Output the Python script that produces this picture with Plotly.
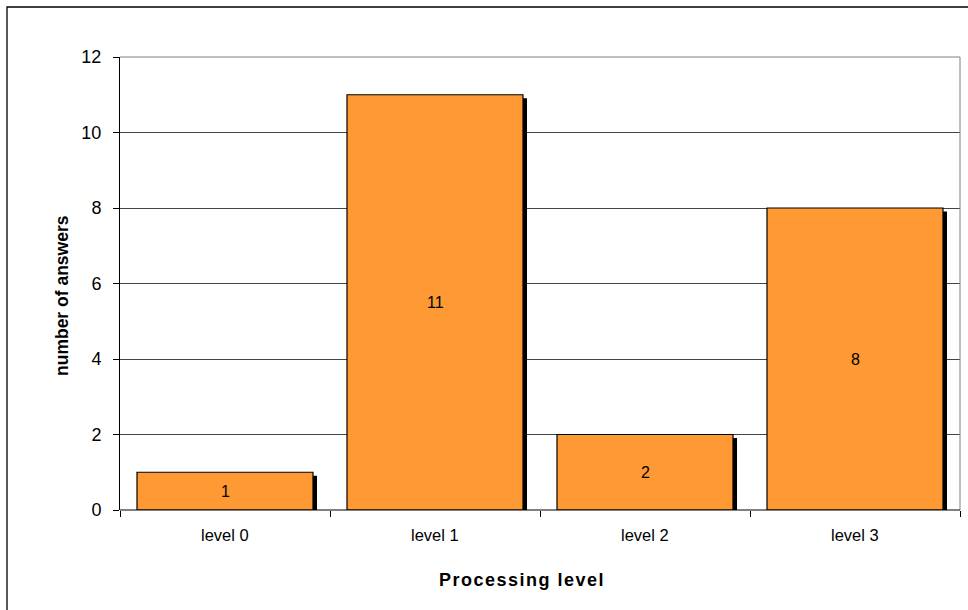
import plotly.graph_objects as go

categories = ["level 0", "level 1", "level 2", "level 3"]
answers = [1, 11, 2, 8]
y_ticks = [0, 2, 4, 6, 8, 10, 12]

W, H = 968, 610
ml, mr, mt, mb = 120, 8, 57, 100
pw, ph = W - ml - mr, H - mt - mb
px_x = 1.0 / (pw / len(categories))   # category units per px
px_y = 12.0 / ph                      # value units per px

bar_w = 176 * px_x
shadow_dx = 4 * px_x
shadow_dy = 3.5 * px_y

FONT = "Liberation Sans, Arial, sans-serif"
HS = "\u200a"

fig = go.Figure()
# shadow
fig.add_trace(go.Bar(
    x=categories, y=answers, base=[-shadow_dy] * len(answers),
    width=bar_w, offset=-bar_w / 2 + shadow_dx,
    marker=dict(color="black", line=dict(width=0)),
    hoverinfo="skip", showlegend=False,
))
# bars
fig.add_trace(go.Bar(
    x=categories, y=answers, width=bar_w, offset=-bar_w / 2,
    marker=dict(color="#FF9933", line=dict(color="black", width=1.2)),
    showlegend=False,
))

fig.update_layout(
    width=W, height=H,
    margin=dict(l=ml, r=mr, t=mt, b=mb),
    paper_bgcolor="white", plot_bgcolor="white",
    barmode="overlay",
    font=dict(family=FONT, color="black"),
    xaxis=dict(
        range=[-0.5, 3.5], showgrid=False, zeroline=False,
        showline=False,
        tickmode="array", tickvals=[-0.5, 0.5, 1.5, 2.5, 3.5], ticktext=["", "", "", "", ""],
        ticks="outside", ticklen=6, tickcolor="black",
    ),
    yaxis=dict(
        range=[0, 12], tickvals=y_ticks, showgrid=True, gridcolor="#444444", gridwidth=1,
        zeroline=False, showline=True, linecolor="black", linewidth=1,
        ticks="outside", ticklen=6, tickcolor="black",
        tickfont=dict(size=18), ticklabelstandoff=8,
    ),
)

# value labels (middle of each bar) and category labels
for c, v in zip(categories, answers):
    fig.add_annotation(x=c, y=v / 2, xref="x", yref="y", text=str(v), showarrow=False,
                       font=dict(size=16), xanchor="center", yanchor="middle")
    fig.add_annotation(x=c, y=0, xref="x", yref="y", text=c, showarrow=False,
                       yshift=-25, font=dict(size=16.5))

# axis titles
x_title = "Processing level"
fig.add_annotation(x=(521.5 - ml) / pw, y=-(580 - mt - ph) / ph, xref="paper", yref="paper",
                   text="<b>" + HS.join(x_title) + "</b>", showarrow=False,
                   font=dict(size=18), xanchor="center", yanchor="middle")
fig.add_annotation(x=(62 - ml) / pw, y=1 - (295 - mt) / ph, xref="paper", yref="paper",
                   text="<b>number of answers</b>", showarrow=False, textangle=-90,
                   font=dict(size=17.5), xanchor="center", yanchor="middle")

# plot-area border (top and right gray), x-axis line
fig.add_shape(type="line", xref="paper", yref="paper", x0=0, x1=1, y0=1, y1=1,
              line=dict(color="#808080", width=1))
fig.add_shape(type="line", xref="paper", yref="paper", x0=1, x1=1, y0=0, y1=1,
              line=dict(color="#808080", width=1))
fig.add_shape(type="line", xref="paper", yref="paper", x0=0, x1=1, y0=0, y1=0,
              line=dict(color="black", width=1))
# outer chart frame
fig.add_shape(type="rect", xref="paper", yref="paper",
              x0=(7 - ml) / pw, x1=1.2, y0=-0.4, y1=1 + (mt - 7) / ph,
              line=dict(color="black", width=1.3), layer="below")

fig.write_html("out.html", config={"displayModeBar": False},
               post_script="document.body.style.margin='0';document.body.style.padding='0';")
